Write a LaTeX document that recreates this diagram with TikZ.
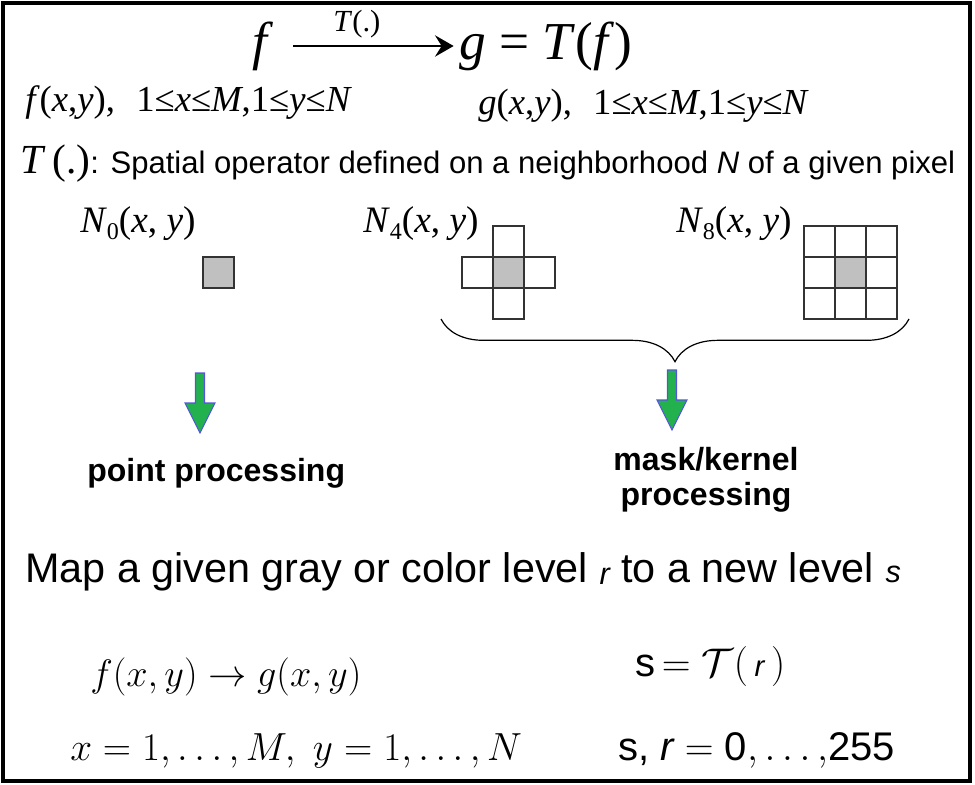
\RequirePackage{fix-cm}
\documentclass[tikz,border=0pt]{standalone}
\usepackage[no-math]{fontspec}
\setmainfont{Liberation Sans}
\newfontfamily\tms{Liberation Serif}
\usetikzlibrary{arrows.meta,decorations.pathreplacing}
\definecolor{arrowgreen}{RGB}{34,177,76}
\definecolor{arrowblue}{RGB}{84,84,220}
\definecolor{cellgray}{RGB}{192,192,192}
\newcommand{\pts}[1]{\fontsize{#1}{#1}\selectfont}
\begin{document}
\begin{tikzpicture}[x=0.75pt,y=-0.75pt,
  every node/.style={inner sep=0pt,anchor=base west},
  pixcell/.style={draw=black!80,line width=1pt},
  greenarrow/.style={fill=arrowgreen,draw=arrowblue,line width=0.8pt}]
 \useasboundingbox (0,0) rectangle (975,785);
 \draw[line width=2.4pt] (3,3) rectangle (970,781);
 % top formula
 \node (f) at (252,60) {\tms\pts{40}\textit{f}};
 \node (gT) at (459,60) {\tms\pts{40}\textit{g} = \textit{T}(\textit{f})};
 \draw[line width=1.5pt,-{Stealth[length=14pt,width=16pt,inset=5pt]},
   shorten <=15pt,shorten >=4pt] (f.base east) ++(0,-14) coordinate (fa)
   (fa) -- (fa -| gT.west) node[pos=.45,above=5pt,anchor=south] {\tms\pts{23}\textit{T}(.)};
 \node (fdom) at (25,111) {\tms\pts{27.5}\textit{f}(\textit{x},\textit{y}),\hspace{16pt}1≤\textit{x}≤\textit{M},1≤\textit{y}≤\textit{N}};
 \node (gdom) at (478,114) {\tms\pts{27.5}\textit{g}(\textit{x},\textit{y}),\hspace{16pt}1≤\textit{x}≤\textit{M},1≤\textit{y}≤\textit{N}};
 \node (spatial) at (20,173) {{\tms\pts{31}\textit{T}\,(.)}{\pts{23.3}: Spatial operator defined on a neighborhood \textit{N} of a given pixel}};
 % neighbourhoods
 \node (nzero) at (80,232) {\tms\pts{28}\textit{N}\raisebox{-0.2em}{\pts{18}0}(\textit{x}, \textit{y})};
 \node (nfour) at (363,232) {\tms\pts{28}\textit{N}\raisebox{-0.2em}{\pts{18}4}(\textit{x}, \textit{y})};
 \node (neight) at (676,232) {\tms\pts{28}\textit{N}\raisebox{-0.2em}{\pts{18}8}(\textit{x}, \textit{y})};
 \filldraw[pixcell,fill=cellgray] (203,257) rectangle +(31,31);
 \fill[cellgray] (493,257) rectangle +(31,31);
 \foreach \dx/\dy in {0/-1,-1/0,0/0,1/0,0/1}
   \draw[pixcell] ({493+31*\dx},{257+31*\dy}) rectangle +(31,31);
 \fill[cellgray] (835,257) rectangle +(31,31);
 \foreach \i in {0,1,2}
   \foreach \j in {0,1,2}
     \draw[pixcell] ({804+31*\i},{226+31*\j}) rectangle +(31,31);
 \draw[line width=0.9pt,decorate,decoration={brace,amplitude=32pt}]
   (909,319) -- (441,319);
 % arrows
 \foreach \ax/\ay in {200/373,672/370}
   \filldraw[greenarrow] ({\ax-4.5},\ay) -- ++(0,30) -- ++(-10.5,0)
     -- ({\ax},{\ay+60}) -- ({\ax+15},{\ay+30}) -- ++(-10.5,0) -- ++(0,-30) -- cycle;
 \node (point) at (87,481) {\pts{24}\bfseries point processing};
 \node[anchor=base] (mask) at (706,470) {\pts{24}\bfseries mask/kernel};
 \node[anchor=base] (kernel) at (706,505) {\pts{24}\bfseries processing};
 % mapping
 \node (map) at (25,582) {\pts{31}Map a given gray or color level \raisebox{-2pt}{\pts{23}\itshape r} to a new level {\pts{23}\itshape s}};
 \node (fg) at (90,686) {\pts{28.7}$f(x,y)\rightarrow g(x,y)$};
 \node (sT) at (635,676) {\pts{30}s$\,=\mathcal{T}($\,{\pts{22}\itshape r}\,$)$};
 \node (xy) at (70,760) {\pts{29.4}$x=1,\ldots,M,\ y=1,\ldots,N$};
 \node (sr) at (618,760) {\pts{30}s, {\itshape r}$\;=\;$0$,\ldots,$255};
\end{tikzpicture}
\end{document}
